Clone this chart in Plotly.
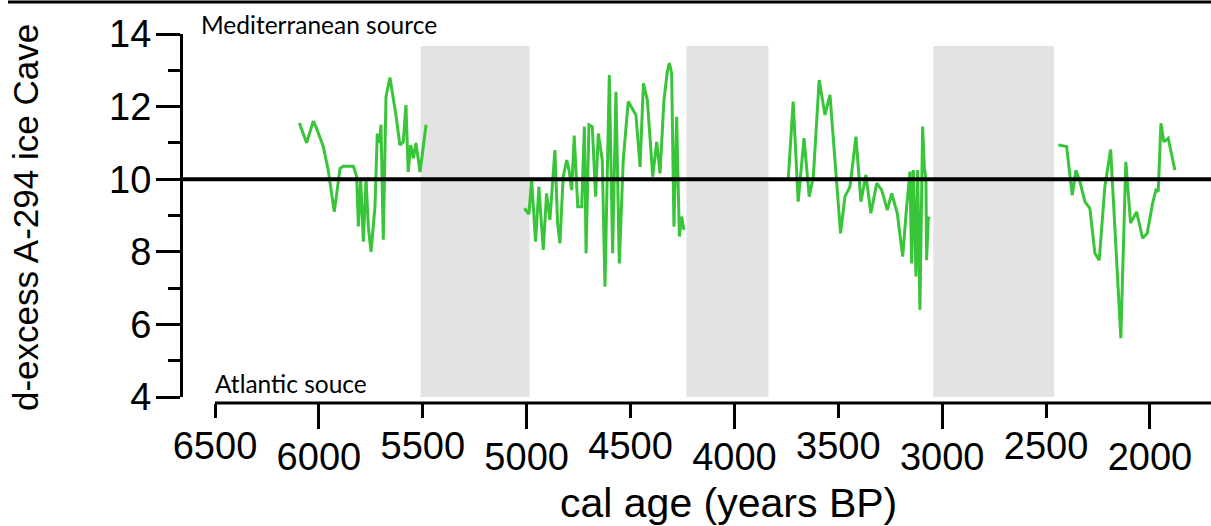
import plotly.graph_objects as go

# ---- data ----
seg1_age = [6094, 6059, 6027, 6011, 5979, 5955, 5926, 5898, 5882, 5834, 5818, 5810, 5799, 5786, 5773, 5762,
            5749, 5730, 5719, 5709, 5701, 5690, 5677, 5658, 5629, 5610, 5594, 5581, 5570, 5558, 5545, 5533,
            5513, 5484]
seg1_d = [11.55, 11.0, 11.6, 11.4, 10.9, 10.25, 9.1, 10.3, 10.36, 10.36, 10.07, 8.7, 10.0, 8.28, 10.0, 8.7,
          8.0, 9.24, 11.26, 11.0, 11.5, 8.33, 12.27, 12.8, 11.77, 10.94, 11.03, 12.04, 10.2, 10.94, 10.58, 11.0,
          10.2, 11.5]

seg2_age = [5011, 4989, 4976, 4957, 4941, 4920, 4904, 4888, 4864, 4851, 4840, 4824, 4807, 4796, 4783, 4771,
            4754, 4735, 4722, 4714, 4700, 4684, 4668, 4655, 4636, 4623, 4602, 4586, 4570, 4554, 4535, 4511,
            4487, 4474, 4454, 4438, 4419, 4393, 4374, 4358, 4339, 4323, 4313, 4302, 4291, 4278, 4265, 4254, 4243]
seg2_d = [9.2, 9.04, 9.98, 8.28, 9.79, 8.05, 9.61, 8.88, 10.8, 8.79, 8.23, 10.07, 10.53, 10.25, 9.7, 11.2,
          9.24, 9.24, 11.45, 7.96, 11.5, 11.45, 9.52, 11.26, 10.53, 7.04, 12.87, 7.96, 12.41, 7.68, 10.53, 12.14,
          11.9, 11.77, 10.34, 12.64, 12.18, 10.07, 11.03, 10.16, 12.18, 12.96, 13.2, 12.92, 8.69, 11.72, 8.42,
          8.97, 8.6]

seg3_age = [3741, 3717, 3693, 3665, 3640, 3620, 3592, 3564, 3540, 3516, 3489, 3468, 3444, 3415, 3391, 3367,
            3343, 3315, 3291, 3264, 3243, 3216, 3190, 3171, 3155, 3147, 3139, 3126, 3118, 3107, 3094, 3086,
            3078, 3075, 3067, 3062]
seg3_d = [9.98, 12.14, 9.38, 11.13, 9.52, 10.07, 12.73, 11.77, 12.32, 10.53, 8.51, 9.52, 9.79, 11.17, 9.38,
          10.12, 9.06, 9.89, 9.7, 9.15, 9.61, 9.06, 7.87, 9.24, 10.21, 7.68, 10.25, 7.32, 10.25, 6.4, 11.45,
          10.34, 9.98, 7.77, 8.88, 8.97]

seg4_age = [2441, 2401, 2374, 2356, 2337, 2313, 2289, 2265, 2244, 2217, 2189, 2164, 2140, 2116, 2093, 2064,
            2035, 2013, 1987, 1971, 1960, 1947, 1933, 1912, 1880]
seg4_d = [10.94, 10.9, 9.56, 10.25, 9.93, 9.38, 9.2, 7.96, 7.77, 9.79, 10.82, 8.14, 5.62, 10.48, 8.79, 9.1,
          8.37, 8.51, 9.34, 9.7, 9.66, 11.54, 11.03, 11.13, 10.25]

shade_start = [5510, 4231, 3043]
shade_end = [4986, 3836, 2461]
shade_top = 13.67

threshold = 10
x_major_ticks = [6000, 5000, 4000, 3000, 2000]
x_minor_ticks = [6500, 5500, 4500, 3500, 2500]
y_major_ticks = [4, 6, 8, 10, 12, 14]
y_minor_ticks = [5, 7, 9, 11, 13]
x_range = [6654, 1706]
y_range = [4, 14]

# ---- build ----
ages, vals = [], []
for a, d in [(seg1_age, seg1_d), (seg2_age, seg2_d), (seg3_age, seg3_d), (seg4_age, seg4_d)]:
    ages += a + [None]
    vals += d + [None]

GREEN = "rgb(57,197,57)"
GREY = "rgb(227,227,227)"
AX_FONT = dict(family="Liberation Sans, Arial, sans-serif", size=38, color="black")
ANN_FONT = dict(family="Lato, Open Sans, sans-serif", size=24.5, color="black")

W, H = 1211, 526
ML, MR, MT, MB = 183, 0, 34, 123
PW, PH = W - ML - MR, H - MT - MB

fig = go.Figure()
fig.add_trace(go.Scatter(x=ages, y=vals, mode="lines", line=dict(color=GREEN, width=3),
                         showlegend=False, hoverinfo="skip"))
fig.add_trace(go.Scatter(x=x_minor_ticks, y=[None] * len(x_minor_ticks), xaxis="x2", mode="lines",
                         showlegend=False, hoverinfo="skip"))

shapes = []
for s, e in zip(shade_start, shade_end):
    shapes.append(dict(type="rect", xref="x", yref="y", x0=s, x1=e, y0=3.9, y1=shade_top,
                       fillcolor=GREY, line=dict(width=0), layer="below"))
shapes.append(dict(type="line", xref="paper", yref="y", x0=0, x1=1, y0=threshold, y1=threshold,
                   line=dict(color="black", width=4)))
shapes.append(dict(type="line", xref="x", yref="paper", x0=x_minor_ticks[0], x1=x_range[1], y0=0, y1=0,
                   line=dict(color="black", width=3)))
shapes.append(dict(type="line", xref="paper", yref="paper", x0=-175 / PW, x1=1, y0=(H - MB - 2) / PH,
                   y1=(H - MB - 2) / PH, line=dict(color="black", width=3)))

xcommon = dict(range=x_range, anchor="free", position=0, ticks="outside", tickwidth=3, tickcolor="black",
               showline=False, showgrid=False, zeroline=False, tickfont=AX_FONT, ticklabelstandoff=-5)

fig.update_layout(
    width=W, height=H,
    margin=dict(l=ML, r=MR, t=MT, b=MB),
    paper_bgcolor="white", plot_bgcolor="white",
    xaxis=dict(tickvals=x_major_ticks, ticklen=25, **xcommon),
    xaxis2=dict(tickvals=x_minor_ticks, ticklen=14, overlaying="x", side="bottom", **xcommon),
    yaxis=dict(range=y_range, domain=[6 / PH, 1], anchor="x", tickvals=y_major_ticks, ticks="outside",
               ticklen=24, tickwidth=3, tickcolor="black", showline=True, linewidth=3, linecolor="black",
               showgrid=False, zeroline=False, tickfont=AX_FONT, ticklabelstandoff=-3,
               minor=dict(tickvals=y_minor_ticks, ticks="outside", ticklen=12, tickwidth=3,
                          tickcolor="black", showgrid=False)),
    shapes=shapes,
    annotations=[
        dict(text="Mediterranean source", xref="paper", yref="paper", x=(199 - ML) / PW,
             y=(H - MB - 25) / PH, xanchor="left", yanchor="middle", showarrow=False, font=ANN_FONT),
        dict(text="Atlantic souce", xref="paper", yref="paper", x=(213 - ML) / PW,
             y=(H - MB - 383) / PH, xanchor="left", yanchor="middle", showarrow=False, font=ANN_FONT),
        dict(text="d-excess A-294 ice Cave", xref="paper", yref="paper", x=(25 - ML) / PW,
             y=(H - MB - 218) / PH, xanchor="center", yanchor="middle", textangle=-90, showarrow=False,
             font=dict(family="Liberation Sans, Arial, sans-serif", size=35, color="black")),
        dict(text="cal age (years BP)", xref="paper", yref="paper", x=(728 - ML) / PW,
             y=(H - MB - 528) / PH, xanchor="center", yanchor="bottom", showarrow=False,
             font=dict(family="Liberation Sans, Arial, sans-serif", size=41, color="black")),
    ],
)

fig.write_html("out.html", config={"displayModeBar": False},
               post_script="document.body.style.margin='0px';")
